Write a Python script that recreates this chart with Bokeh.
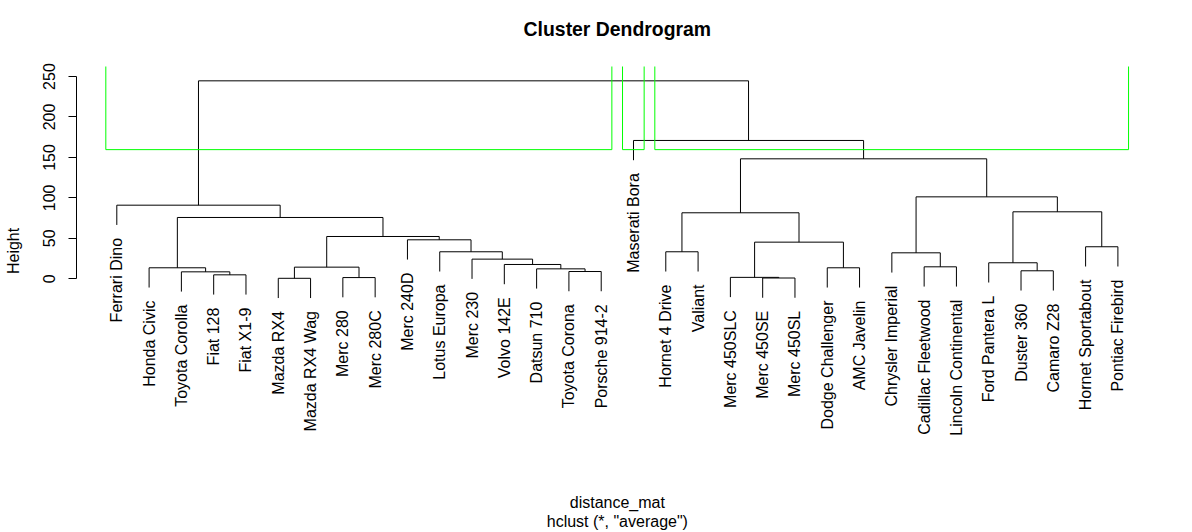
import math
from bokeh.plotting import figure
from bokeh.models import Range1d, LinearAxis, FixedTicker
from bokeh.core.properties import value
from bokeh.embed import file_html
from bokeh.resources import INLINE

# ---- data: leaf labels in dendrogram order (left to right) ----
labels = ["Ferrari Dino", "Honda Civic", "Toyota Corolla", "Fiat 128", "Fiat X1-9",
          "Mazda RX4", "Mazda RX4 Wag", "Merc 280", "Merc 280C", "Merc 240D",
          "Lotus Europa", "Merc 230", "Volvo 142E", "Datsun 710", "Toyota Corona",
          "Porsche 914-2", "Maserati Bora", "Hornet 4 Drive", "Valiant", "Merc 450SLC",
          "Merc 450SE", "Merc 450SL", "Dodge Challenger", "AMC Javelin",
          "Chrysler Imperial", "Cadillac Fleetwood", "Lincoln Continental",
          "Ford Pantera L", "Duster 360", "Camaro Z28", "Hornet Sportabout",
          "Pontiac Firebird"]

# merges (R hclust convention): negative = leaf position, positive = earlier merge
merge_left = [-6, -21, -8, -20, -4, -3, -15, -29, -14, -2, -23, 1, -26, -13, -28, -12,
              -25, -11, -18, -31, 4, -10, 12, 10, 19, 15, -1, 17, 25, -17, 27]
merge_right = [-7, -22, -9, 2, -5, 5, -16, -30, 7, 6, -24, 3, -27, 9, 8, 14,
               13, 16, -19, -32, 11, 18, 22, 23, 21, 20, 24, 26, 28, 29, 30]
merge_height = [0.61, 0.98, 1.52, 1.76, 4.9, 8.6, 9.0, 9.9, 12.3, 13.6, 13.6, 14.4,
                14.8, 17.7, 19.8, 24.3, 32.1, 33.4, 33.4, 39.6, 45.3, 48.2, 52.3,
                75.8, 81.6, 82.8, 91.0, 101.3, 148.3, 171.0, 244.7]

y_ticks = [0, 50, 100, 150, 200, 250]
k_clusters = 3

title_text = "Cluster Dendrogram"
xlab_text = "distance_mat"
sub_text = 'hclust (*, "average")'
ylab_text = "Height"

# ---- layout ----
FONT = value("Liberation Sans")
n = len(labels)
hang = 0.1 * (max(merge_height) - min(merge_height))

p = figure(width=1192, height=532, output_backend="svg", toolbar_location=None,
           x_axis_type=None, y_axis_type=None,
           x_range=Range1d(-0.248, 34.31), y_range=Range1d(-313.6, 344.0),
           min_border_left=76, min_border_right=0, min_border_top=0, min_border_bottom=0)
p.outline_line_color = None
p.background_fill_color = "white"
p.border_fill_color = "white"

# axis title: leading no-break spaces move it up so that it sits centred on
# R's plot region rather than on the whole figure height
yaxis = LinearAxis(ticker=FixedTicker(ticks=y_ticks), bounds=(0, 250),
                   axis_label="\u00a0" * 7 + ylab_text)
yaxis.major_label_orientation = "vertical"
yaxis.major_tick_out = 8
yaxis.major_tick_in = 0
yaxis.minor_tick_out = 0
yaxis.minor_tick_in = 0
yaxis.axis_line_color = "black"
yaxis.major_tick_line_color = "black"
yaxis.major_label_text_font = "Liberation Sans"
yaxis.major_label_text_font_size = "16px"
yaxis.major_label_text_color = "black"
yaxis.major_label_standoff = 13
yaxis.axis_label_text_font = "Liberation Sans"
yaxis.axis_label_text_font_size = "16px"
yaxis.axis_label_text_font_style = "normal"
yaxis.axis_label_text_color = "black"
yaxis.axis_label_standoff = 19
p.add_layout(yaxis, "left")

# ---- tree geometry ----
xpos = {}
leaf_parent_h = {}
for i, (a, b, h) in enumerate(zip(merge_left, merge_right, merge_height), start=1):
    xs = []
    for c in (a, b):
        if c < 0:
            xs.append(-c)
            leaf_parent_h[-c] = h
        else:
            xs.append(xpos[c])
    xpos[i] = (xs[0] + xs[1]) / 2.0

x0, y0, x1, y1 = [], [], [], []
for i, (a, b, h) in enumerate(zip(merge_left, merge_right, merge_height), start=1):
    pts = []
    for c in (a, b):
        if c < 0:
            pts.append((-c, h - hang))
        else:
            pts.append((xpos[c], merge_height[c - 1]))
    (xa, ya), (xb, yb) = pts
    x0 += [xa, xa, xb]
    y0 += [ya, h, h]
    x1 += [xa, xb, xb]
    y1 += [h, h, yb]
p.segment(x0=x0, y0=y0, x1=x1, y1=y1, line_color="black", line_width=1)

# leaf labels
leaf_x = list(range(1, n + 1))
leaf_y = [leaf_parent_h[i] - hang for i in leaf_x]
p.text(x=leaf_x, y=leaf_y, text=labels, angle=math.pi / 2, text_align="right",
       text_baseline="middle", y_offset=13, text_font=FONT, text_font_size="16px",
       text_color="black")

# ---- rect.hclust style cluster boxes ----
nodes = [len(merge_height)]
while len(nodes) < k_clusters:
    j = max(nodes, key=lambda m: merge_height[m - 1] if m > 0 else -1)
    nodes.remove(j)
    nodes += [merge_left[j - 1], merge_right[j - 1]]

def leaves_of(c):
    if c < 0:
        return [-c]
    return leaves_of(merge_left[c - 1]) + leaves_of(merge_right[c - 1])

clusters = sorted([leaves_of(c) for c in nodes], key=min)
hs = sorted(merge_height, reverse=True)
rect_h = (hs[k_clusters - 2] + hs[k_clusters - 1]) / 2.0
region_top = 262.4
gx0, gy0, gx1, gy1 = [], [], [], []
for cl in clusters:
    left = min(cl) - 0.34
    right = max(cl) + 0.33
    gx0 += [left, left, right]
    gy0 += [region_top, rect_h, rect_h]
    gx1 += [left, right, right]
    gy1 += [rect_h, rect_h, region_top]
p.segment(x0=gx0, y0=gy0, x1=gx1, y1=gy1, line_color="#00ff00", line_width=1)

# ---- titles ----
xc = (1 - 0.04 * (n - 1) + n + 0.04 * (n - 1)) / 2.0
p.text(x=[xc], y=[309.0], text=[title_text], text_align="center",
       text_baseline="middle", text_font=FONT, text_font_size="19.4px",
       text_font_style="bold", text_color="black")
p.text(x=[xc], y=[-276.8], text=[xlab_text], text_align="center",
       text_baseline="middle", text_font=FONT, text_font_size="16px",
       text_color="black")
p.text(x=[xc], y=[-299.4], text=[sub_text], text_align="center",
       text_baseline="middle", text_font=FONT, text_font_size="16px",
       text_color="black")

open("out.html", "w").write(file_html(p, INLINE))
